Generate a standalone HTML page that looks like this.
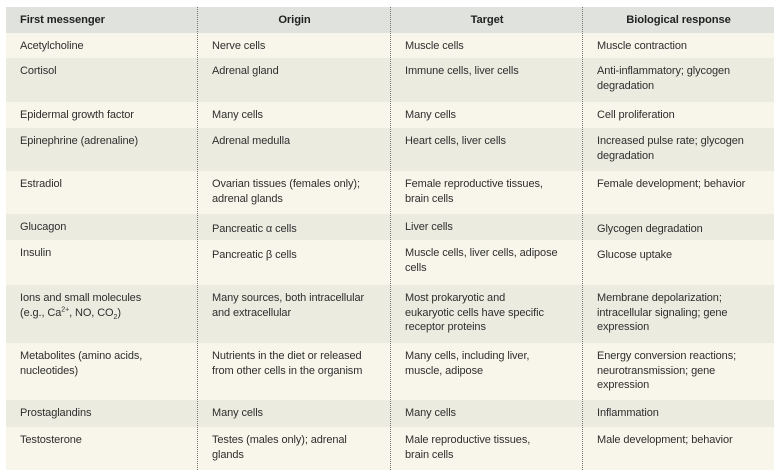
<!DOCTYPE html>
<html><head><meta charset="utf-8"><style>
body{margin:0;width:780px;height:476px;background:#fff;position:relative;overflow:hidden;font-family:"Liberation Sans",sans-serif;font-size:11px;color:#2e2e2e;letter-spacing:-0.1px}
.r{position:absolute;left:6px;width:768px}
.c{position:absolute;top:6px;line-height:14.5px}
.c1{left:14px;width:175px}.c2{left:206px;width:180px}.c3{left:399px;width:175px}.c4{left:591px;width:175px}
.h{background:#dfe2dd;font-weight:bold;color:#222;font-size:11.2px}
.h .c{top:6px}
.l{background:#f8f6ea}.d{background:#ecebe0}
.v{position:absolute;top:7px;height:463px;border-left:1px dotted #777}
sup,sub{font-size:7px;line-height:0}
</style></head><body>
<div class="r h" style="top:7px;height:26px"><div class="c c1">First messenger</div><div class="c" style="left:192px;width:193px;text-align:center">Origin</div><div class="c" style="left:385px;width:192px;text-align:center">Target</div><div class="c" style="left:577px;width:191px;text-align:center">Biological response</div></div>
<div class="r l" style="top:33px;height:25px"><div class="c c1">Acetylcholine</div><div class="c c2">Nerve cells</div><div class="c c3">Muscle cells</div><div class="c c4">Muscle contraction</div></div>
<div class="r d" style="top:58px;height:44px"><div class="c c1">Cortisol</div><div class="c c2">Adrenal gland</div><div class="c c3">Immune cells, liver cells</div><div class="c c4">Anti-inflammatory; glycogen<br>degradation</div></div>
<div class="r l" style="top:102px;height:26px"><div class="c c1">Epidermal growth factor</div><div class="c c2">Many cells</div><div class="c c3">Many cells</div><div class="c c4">Cell proliferation</div></div>
<div class="r d" style="top:128px;height:43px"><div class="c c1">Epinephrine (adrenaline)</div><div class="c c2">Adrenal medulla</div><div class="c c3">Heart cells, liver cells</div><div class="c c4">Increased pulse rate; glycogen<br>degradation</div></div>
<div class="r l" style="top:171px;height:43px"><div class="c c1">Estradiol</div><div class="c c2">Ovarian tissues (females only);<br>adrenal glands</div><div class="c c3">Female reproductive tissues,<br>brain cells</div><div class="c c4">Female development; behavior</div></div>
<div class="r d" style="top:214px;height:26px"><div class="c c1">Glucagon</div><div class="c c2" style="top:8px">Pancreatic α cells</div><div class="c c3">Liver cells</div><div class="c c4" style="top:8px">Glycogen degradation</div></div>
<div class="r l" style="top:240px;height:45px"><div class="c c1">Insulin</div><div class="c c2" style="top:8px">Pancreatic β cells</div><div class="c c3">Muscle cells, liver cells, adipose<br>cells</div><div class="c c4" style="top:8px">Glucose uptake</div></div>
<div class="r d" style="top:285px;height:58px"><div class="c c1">Ions and small molecules<br>(e.g., Ca<sup>2+</sup>, NO, CO<sub>2</sub>)</div><div class="c c2">Many sources, both intracellular<br>and extracellular</div><div class="c c3">Most prokaryotic and<br>eukaryotic cells have specific<br>receptor proteins</div><div class="c c4">Membrane depolarization;<br>intracellular signaling; gene<br>expression</div></div>
<div class="r l" style="top:343px;height:57px"><div class="c c1">Metabolites (amino acids,<br>nucleotides)</div><div class="c c2">Nutrients in the diet or released<br>from other cells in the organism</div><div class="c c3">Many cells, including liver,<br>muscle, adipose</div><div class="c c4">Energy conversion reactions;<br>neurotransmission; gene<br>expression</div></div>
<div class="r d" style="top:400px;height:27px"><div class="c c1">Prostaglandins</div><div class="c c2">Many cells</div><div class="c c3">Many cells</div><div class="c c4">Inflammation</div></div>
<div class="r l" style="top:427px;height:43px"><div class="c c1">Testosterone</div><div class="c c2">Testes (males only); adrenal<br>glands</div><div class="c c3">Male reproductive tissues,<br>brain cells</div><div class="c c4">Male development; behavior</div></div>
<div class="v" style="left:197px"></div><div class="v" style="left:390px"></div><div class="v" style="left:582px"></div>
</body></html>
